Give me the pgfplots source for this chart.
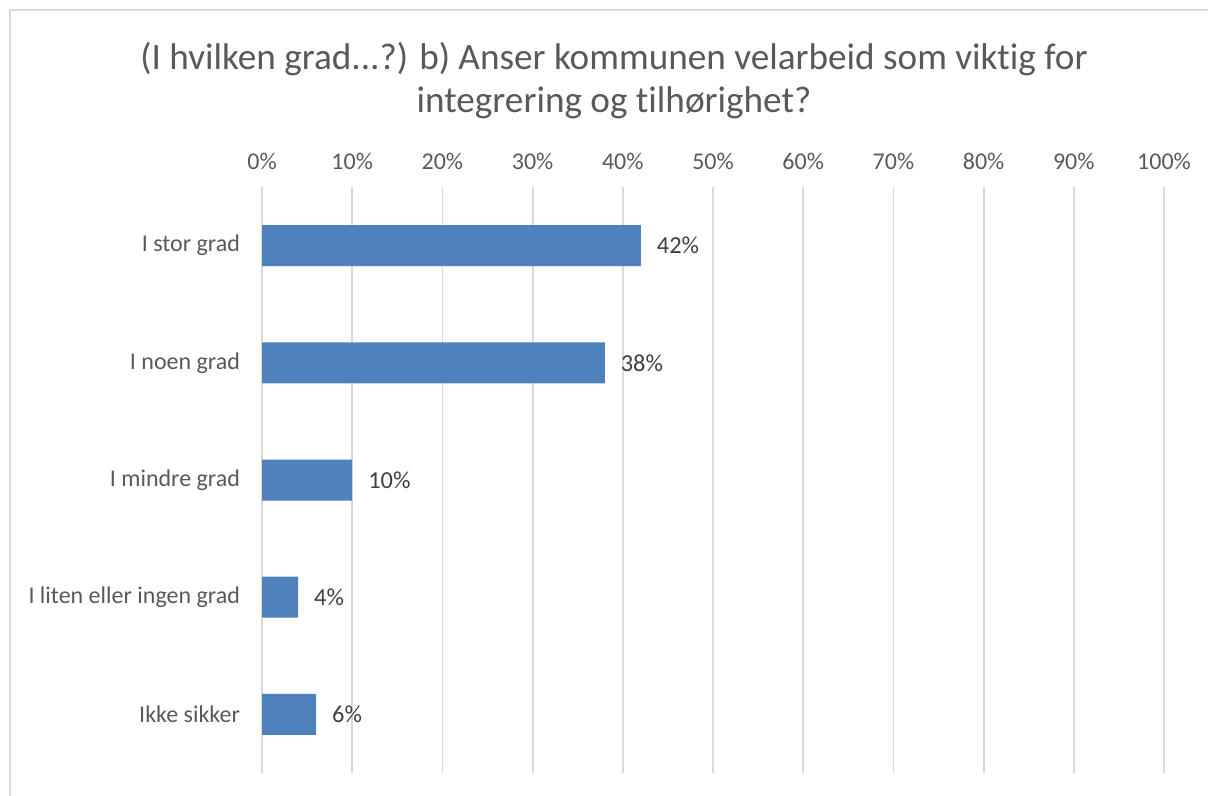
\documentclass[border=0pt]{standalone}
\usepackage{fontspec}
\setmainfont{Carlito}[Ligatures=NoCommon]
\usepackage{pgfplots}
\pgfplotsset{compat=1.18}
\definecolor{barblue}{HTML}{4F81BD}
\definecolor{gridgray}{HTML}{D9D9D9}
\definecolor{txtgray}{HTML}{595959}
\definecolor{lblgray}{HTML}{404040}
\begin{document}
\begin{tikzpicture}
\path[use as bounding box] (0,0) rectangle (604pt,-398pt);
\draw[gridgray, line width=0.9pt] (5pt,-398pt) -- (5pt,-5pt) -- (604pt,-5pt);
\node[txtgray, align=center, font=\fontsize{18.6}{21.5}\selectfont] at (307pt,-40.5pt)
  {(I hvilken grad...?) b) Anser kommunen velarbeid som viktig for\\integrering og tilhørighet?};
\begin{axis}[
  at={(131pt,-93.5pt)}, anchor=north west,
  scale only axis, width=451pt, height=293pt,
  xbar, bar width=20.5pt,
  xmin=0, xmax=100, ymin=-0.5, ymax=4.5, y dir=reverse,
  xtick={0,10,...,100}, xticklabel={\pgfmathprintnumber{\tick}\%},
  xticklabel pos=upper,
  ytick={0,1,2,3,4},
  yticklabels={I stor grad, I noen grad, I mindre grad, I liten eller ingen grad, Ikke sikker},
  axis line style={draw=none}, major tick length=0pt,
  xmajorgrids, grid style={gridgray, line width=0.9pt},
  tick label style={font=\fontsize{12}{14}\selectfont, text=txtgray},
  xticklabel style={yshift=5pt},
  yticklabel style={xshift=-7.5pt},
  /pgf/number format/assume math mode=true,
  nodes near coords={\pgfmathprintnumber{\pgfplotspointmeta}\%},
  nodes near coords style={font=\fontsize{12.2}{14}\selectfont, text=lblgray, xshift=4.5pt},
]
\addplot[fill=barblue, draw=none] coordinates {(42,0) (38,1) (10,2) (4,3) (6,4)};
\end{axis}
\end{tikzpicture}
\end{document}
